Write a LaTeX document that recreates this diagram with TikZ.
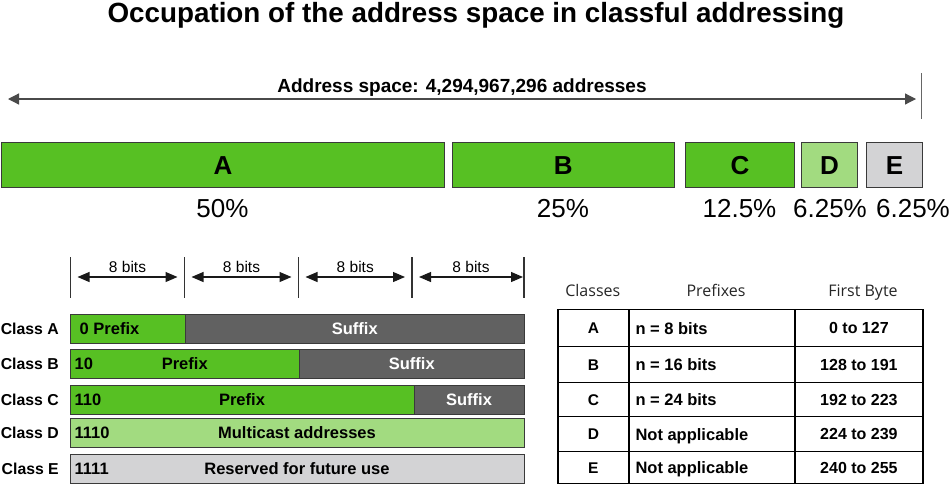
\documentclass[tikz,border=0pt]{standalone}
\usepackage{fontspec}
\setmainfont{Liberation Sans}
\newfontfamily\hdrfont{Open Sans}
\usetikzlibrary{arrows.meta}
\definecolor{gmain}{HTML}{57C023}
\definecolor{glight}{HTML}{A2DB80}
\definecolor{gyl}{HTML}{D3D3D5}
\definecolor{gyd}{HTML}{616161}
\definecolor{edgec}{HTML}{3A3A3A}
\definecolor{linec}{HTML}{4A4A4A}
\newcommand{\myfs}[1]{\fontsize{#1}{#1}\selectfont}
\begin{document}
\begin{tikzpicture}[x=1pt,y=-1pt,
  seg/.style={draw=edgec, line width=1pt, inner sep=0pt, anchor=north west,
    minimum height=45pt, font=\myfs{26}\bfseries, text height=18.6pt, text depth=0pt},
  pct/.style={anchor=base, inner sep=0pt, font=\myfs{26}},
  rowbar/.style={draw=edgec, line width=1pt, inner sep=0pt, anchor=north west,
    minimum height=28.5pt, font=\myfs{16.5}\bfseries, text height=11.8pt, text depth=0pt},
  lbl/.style={inner sep=0pt, font=\myfs{16.5}\bfseries, text height=11.8pt, text depth=0pt},
  cls/.style={inner sep=0pt, font=\myfs{15.8}\bfseries, text height=11.3pt, text depth=0pt},
  cell/.style={draw=black, line width=1.2pt, inner sep=0pt, anchor=north west,
    font=\myfs{16}\bfseries, text height=11.5pt, text depth=0pt},
  tl/.style={inner sep=0pt, font=\myfs{16.5}\bfseries, text height=11.8pt, text depth=0pt},
  hdr/.style={anchor=base, inner sep=0pt, font=\hdrfont\myfs{16}, text=black!85},
  bigarr/.style={draw=linec, line width=1.2pt, {Triangle[length=11pt,width=11pt]}-{Triangle[length=11pt,width=11pt]}},
  bitarr/.style={draw=black!90, line width=1.1pt, {Triangle[length=12pt,width=10pt]}-{Triangle[length=12pt,width=10pt]}},
  tick/.style={draw=black!80, line width=1.1pt},
]
\useasboundingbox (0,0) rectangle (950,485);

% title
\node[anchor=base, inner sep=0pt, font=\myfs{27.8}\bfseries] (title) at (476,22)
  {Occupation of the address space in classful addressing};

% address space arrow
\coordinate (asL) at (8,99);
\coordinate (asR) at (916,99);
\coordinate (endT) at (921.5,73);
\coordinate (endB) at (921.5,119);
\draw[bigarr] (asL) -- (asR);
\draw[draw=black!60, line width=1.2pt] (endT) -- (endB);
\node[anchor=base, inner sep=0pt, font=\myfs{19}\bfseries] (aslbl) at (462,92)
  {Address space: 4,294,967,296 addresses};

% class segments
\node[seg, fill=gmain, minimum width=443pt] (A) at (1,142) {A};
\node[seg, fill=gmain, minimum width=222.5pt] (B) at (451.5,142) {B};
\node[seg, fill=gmain, minimum width=109pt] (C) at (685,142) {C};
\node[seg, fill=glight, minimum width=56pt] (D) at (801,142) {D};
\node[seg, fill=gyl, minimum width=56pt] (E) at (866,142) {E};

\node[pct] (pA) at (222.5,217) {50\%};
\node[pct] (pB) at (563,217) {25\%};
\node[pct] (pC) at (739.5,217) {12.5\%};
\node[pct] (pD) at (830,217) {6.25\%};
\node[pct] (pE) at (913,217) {6.25\%};

% bit ticks
\foreach \i/\x in {0/70.5,1/184.5,2/298.5,3/412,4/524}{
  \coordinate (tt\i) at (\x,257);
  \coordinate (tb\i) at (\x,298);
  \draw[tick] (tt\i) -- (tb\i);
}
\foreach \i/\j in {0/1,1/2,2/3}{
  \coordinate (al\i) at ([xshift=7pt]tt\i |- 0,277);
  \coordinate (ar\i) at ([xshift=-7pt]tt\j |- 0,277);
}
\coordinate (al3) at ([xshift=7pt]tt3 |- 0,277);
\coordinate (ar3) at ([xshift=-1pt]tt4 |- 0,277);
\foreach \i in {0,1,2,3}{
  \draw[bitarr] (al\i) -- (ar\i)
    node[midway, above=4.3pt, inner sep=0pt, font=\myfs{15.5}] (bl\i) {8 bits};
}

% class rows
\node[rowbar, fill=gmain, minimum width=115.5pt] (pAr) at (69.5,314) {};
\node[rowbar, fill=gyd, minimum width=338.5pt, text=white] (sAr) at (185,314) {Suffix};
\node[rowbar, fill=gmain, minimum width=229.5pt] (pBr) at (69.5,349) {Prefix};
\node[rowbar, fill=gyd, minimum width=224.5pt, text=white] (sBr) at (299,349) {Suffix};
\node[rowbar, fill=gmain, minimum width=344pt] (pCr) at (69.5,385) {Prefix};
\node[rowbar, fill=gyd, minimum width=110pt, text=white] (sCr) at (413.5,385) {Suffix};
\node[rowbar, fill=glight, minimum width=454pt] (pDr) at (69.5,418) {Multicast addresses};
\node[rowbar, fill=gyl, minimum width=454pt] (pEr) at (69.5,454) {Reserved for future use};

\node[lbl, anchor=west] (cA) at ([xshift=10pt]pAr.west) {0 Prefix};
\node[lbl, anchor=west] (cB) at ([xshift=5pt]pBr.west) {10};
\node[lbl, anchor=west] (cC) at ([xshift=5pt]pCr.west) {110};
\node[lbl, anchor=west] (cD) at ([xshift=5pt]pDr.west) {1110};
\node[lbl, anchor=west] (cE) at ([xshift=5pt]pEr.west) {1111};

\node[cls, anchor=east] (nA) at ([xshift=-10.5pt]pAr.west) {Class A};
\node[cls, anchor=east] (nB) at ([xshift=-10.5pt]pBr.west) {Class B};
\node[cls, anchor=east] (nC) at ([xshift=-10.5pt]pCr.west) {Class C};
\node[cls, anchor=east] (nD) at ([xshift=-10.5pt]pDr.west) {Class D};
\node[cls, anchor=east] (nE) at ([xshift=-10.5pt]pEr.west) {Class E};

% table header
\node[hdr] (h1) at (592.8,296) {Classes};
\node[hdr] (h2) at (716,296) {Prefixes};
\node[hdr] (h3) at (863,296) {First Byte};

% table
\foreach \r/\y/\h/\k/\p/\f in {1/309/37/A/n = 8 bits/0 to 127,
                               2/346/36/B/n = 16 bits/128 to 191,
                               3/382/34/C/n = 24 bits/192 to 223,
                               4/416/35/D/Not applicable/224 to 239,
                               5/451/32/E/Not applicable/240 to 255}{
  \node[cell, minimum width=71pt, minimum height=\h pt, font=\myfs{15.5}\bfseries] (k\r) at (557.3,\y) {\k};
  \node[cell, minimum width=166pt, minimum height=\h pt] (q\r) at (628.3,\y) {};
  \node[cell, minimum width=128pt, minimum height=\h pt] (f\r) at (794.3,\y) {\f};
  \node[tl, anchor=west] (qt\r) at ([xshift=7pt]q\r.west) {\p};
}
\end{tikzpicture}
\end{document}
